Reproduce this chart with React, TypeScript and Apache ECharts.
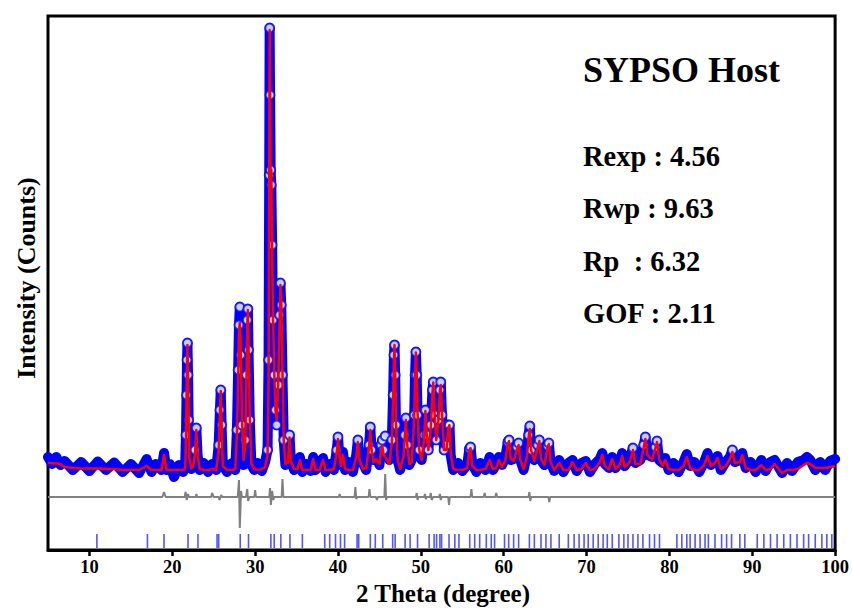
import React, { useEffect, useRef } from "react";
import * as echarts from "echarts";

// [2θ, observed counts, calculated counts]
const profile: [number, number, number][] = [
  [5.0, 560, 440], [5.5, 420, 440], [6.0, 560, 430], [6.5, 400, 420], [7.0, 480, 360],
  [8.0, 300, 340], [9.0, 460, 330], [10.0, 280, 330], [11.0, 470, 330], [12.0, 300, 320],
  [13.0, 450, 320], [14.0, 260, 300], [15.0, 420, 300], [16.0, 240, 300], [16.9, 520, 380],
  [17.5, 260, 300], [18.0, 420, 300], [18.7, 300, 300], [19.0, 640, 600], [19.3, 300, 300],
  [19.7, 420, 300], [20.2, 160, 300], [20.8, 400, 300], [21.3, 260, 300],
  [21.55, 380, 320], [21.65, 1000, 900], [21.72, 1800, 1700], [21.78, 2500, 2450], [21.83, 2840, 2800],
  [21.9, 2200, 2250], [21.97, 1300, 1350], [22.05, 600, 560], [22.3, 320, 330], [22.5, 420, 360],
  [22.75, 700, 650], [22.9, 1140, 1100], [23.05, 600, 600], [23.3, 300, 320], [23.8, 440, 300],
  [24.3, 260, 300], [24.8, 420, 320], [25.3, 300, 300], [25.6, 800, 700], [25.75, 1500, 1450],
  [25.85, 1900, 1880], [25.95, 1200, 1250], [26.1, 400, 380], [26.6, 260, 300], [27.2, 440, 300],
  [27.6, 300, 320], [27.8, 1100, 1000], [27.95, 2300, 2100], [28.05, 3200, 3100], [28.15, 3560, 3250],
  [28.25, 2600, 2900], [28.4, 1200, 1400], [28.6, 400, 500], [28.8, 900, 800], [28.95, 2200, 2100],
  [29.05, 3300, 3200], [29.12, 3520, 3500], [29.2, 2700, 2800], [29.35, 1300, 1400], [29.55, 400, 420],
  [29.9, 300, 320], [30.3, 440, 300], [30.8, 280, 320], [31.2, 460, 360], [31.5, 700, 600],
  [31.62, 2500, 2200], [31.7, 6200, 6000], [31.75, 9140, 9100], [31.8, 7800, 8000], [31.87, 6300, 6200],
  [31.95, 6000, 6300], [32.05, 4800, 4600], [32.15, 3300, 3400], [32.3, 2200, 2300], [32.45, 1500, 1500],
  [32.6, 1200, 1300], [32.8, 2000, 2100], [32.95, 3400, 3300], [33.05, 4040, 4000], [33.15, 3600, 3700],
  [33.3, 2200, 2300], [33.45, 900, 900], [33.65, 400, 420], [33.95, 500, 450], [34.15, 1000, 950],
  [34.3, 500, 480], [34.7, 300, 320], [35.1, 420, 320], [35.4, 560, 500], [35.7, 260, 300],
  [36.2, 420, 300], [36.7, 280, 300], [37.0, 560, 520], [37.3, 300, 300], [37.8, 420, 300],
  [38.2, 540, 500], [38.5, 260, 300], [39.0, 420, 300], [39.5, 300, 320], [39.85, 700, 650],
  [40.0, 960, 920], [40.15, 600, 620], [40.35, 400, 380], [40.6, 660, 600], [40.85, 300, 320],
  [41.3, 460, 300], [41.8, 260, 300], [42.2, 600, 560], [42.4, 900, 860], [42.6, 500, 500],
  [43.0, 440, 320], [43.4, 300, 340], [43.75, 800, 750], [43.9, 1160, 1100], [44.05, 700, 700],
  [44.3, 500, 450], [44.6, 600, 520], [45.0, 400, 420], [45.2, 800, 700], [45.35, 900, 780],
  [45.5, 700, 600], [45.7, 980, 560], [45.9, 600, 500], [46.2, 500, 420], [46.5, 900, 850],
  [46.65, 1800, 1750], [46.75, 2600, 2550], [46.82, 2800, 2800], [46.9, 2200, 2250], [47.0, 1200, 1250],
  [47.2, 500, 500], [47.5, 300, 320], [47.9, 600, 560], [48.05, 1000, 950], [48.2, 1340, 1300],
  [48.35, 800, 820], [48.6, 400, 420], [48.9, 500, 460], [49.2, 1400, 1350], [49.3, 2200, 2150],
  [49.4, 2660, 2650], [49.5, 2200, 2250], [49.6, 1400, 1450], [49.8, 700, 700], [50.1, 500, 500],
  [50.4, 1000, 950], [50.55, 1500, 1480], [50.7, 1000, 1000], [50.9, 700, 700], [51.2, 1200, 1150],
  [51.4, 1900, 1850], [51.5, 2060, 2050], [51.65, 1400, 1450], [51.85, 900, 900], [52.1, 1300, 1250],
  [52.3, 1900, 1900], [52.4, 2060, 2000], [52.55, 1400, 1450], [52.8, 700, 700], [53.1, 800, 700],
  [53.3, 1200, 1150], [53.45, 1200, 1200], [53.6, 600, 650], [53.9, 300, 320], [54.5, 440, 300],
  [55.0, 280, 300], [55.6, 400, 340], [55.85, 720, 700], [56.0, 760, 740], [56.2, 420, 380],
  [56.7, 260, 300], [57.2, 440, 300], [57.8, 300, 320], [58.3, 560, 500], [58.7, 300, 320],
  [59.1, 420, 340], [59.4, 560, 500], [59.8, 400, 360], [60.2, 560, 500], [60.5, 860, 820],
  [60.65, 900, 880], [60.85, 500, 520], [61.2, 520, 480], [61.6, 760, 720], [61.8, 840, 800],
  [62.0, 500, 500], [62.4, 300, 320], [62.8, 600, 560], [63.0, 1000, 950], [63.15, 1180, 1120],
  [63.3, 700, 700], [63.7, 500, 480], [64.1, 800, 760], [64.3, 900, 880], [64.5, 500, 520],
  [64.9, 400, 400], [65.3, 780, 760], [65.45, 840, 820], [65.65, 460, 460], [66.1, 280, 300],
  [66.7, 500, 440], [67.2, 260, 300], [67.8, 440, 300], [68.3, 500, 460], [68.8, 280, 300],
  [69.4, 440, 320], [69.9, 480, 440], [70.4, 260, 300], [71.0, 420, 320], [71.6, 520, 460],
  [71.9, 640, 600], [72.2, 420, 380], [72.7, 340, 320], [73.1, 560, 520], [73.5, 340, 320],
  [74.0, 460, 400], [74.3, 640, 580], [74.6, 380, 360], [75.2, 520, 460], [75.6, 740, 700],
  [75.9, 440, 420], [76.5, 500, 420], [76.9, 800, 760], [77.1, 960, 920], [77.35, 600, 600],
  [77.9, 560, 500], [78.3, 760, 740], [78.5, 880, 860], [78.75, 500, 520], [79.2, 440, 380],
  [79.5, 540, 500], [79.9, 300, 320], [80.5, 440, 300], [81.1, 260, 300], [81.7, 460, 380],
  [82.1, 620, 560], [82.5, 380, 340], [83.0, 460, 300], [83.6, 260, 300], [84.2, 460, 400],
  [84.6, 640, 580], [85.0, 400, 380], [85.5, 500, 440], [85.8, 580, 540], [86.2, 300, 320],
  [86.8, 460, 380], [87.3, 560, 520], [87.6, 700, 660], [87.9, 460, 440], [88.5, 500, 460],
  [88.8, 640, 600], [89.2, 340, 340], [89.8, 460, 300], [90.4, 260, 300], [91.1, 500, 400],
  [91.6, 280, 300], [92.2, 460, 320], [92.7, 500, 420], [93.6, 240, 240], [94.2, 440, 300],
  [94.8, 280, 300], [95.5, 460, 320], [96.2, 500, 400], [96.6, 560, 440], [97.0, 500, 420],
  [97.6, 300, 340], [98.2, 460, 340], [98.8, 300, 340], [99.4, 480, 360], [100.0, 520, 380],
];

// [2θ, observed − calculated]
const difference: [number, number][] = [
  [5, 0], [18.8, 0], [19.0, 100], [19.2, 0], [21.5, 0], [21.6, 100], [21.75, -60], [21.9, 60], [22.0, 0],
  [22.85, 0], [22.9, 60], [23.0, 0], [24.7, 0], [24.8, 80], [25.0, 0], [25.6, 0], [25.7, -60],
  [25.9, 40], [26.0, 0], [27.9, 0], [28.05, 340], [28.15, -620], [28.3, 120], [28.4, 0],
  [28.9, 0], [29.05, 160], [29.15, -80], [29.3, 0], [29.9, 0], [30.0, 140], [30.1, 0],
  [31.7, 0], [31.8, 180], [31.9, -160], [32.05, 120], [32.2, -60], [32.3, 0], [33.2, 0],
  [33.3, 360], [33.4, 0], [40.1, 0], [40.2, 60], [40.3, 0], [42.0, 0], [42.1, 200],
  [42.2, -40], [42.3, 0], [43.7, 0], [43.8, 160], [43.9, 0], [44.6, 0], [44.7, -60],
  [44.8, 0], [45.6, 0], [45.7, 460], [45.8, -60], [45.9, 0], [49.4, 0], [49.5, 80],
  [49.6, -60], [49.7, 0], [50.4, 0], [50.5, 60], [50.6, -40], [50.7, 0], [51.1, 0],
  [51.2, 80], [51.3, -60], [51.5, 0], [52.2, 0], [52.3, 60], [52.4, -60], [52.5, 0],
  [53.3, 0], [53.4, -160], [53.5, 0], [56.0, 0], [56.1, 160], [56.2, 0], [57.6, 0],
  [57.7, 80], [57.8, 0], [59.0, 0], [59.1, 80], [59.2, 0], [63.0, 0], [63.1, 100],
  [63.2, -80], [63.3, 0], [65.4, 0], [65.5, -100], [65.6, 0], [100, 0],
];

// Bragg reflection positions (2θ)
const braggPositions: number[] = [
  10.9, 17.0, 19.0, 21.9, 23.1, 25.4, 25.6, 28.2, 29.2, 31.9, 32.3, 33.1, 34.2, 35.7,
  38.4, 39.0, 39.7, 40.3, 40.8, 42.3, 42.5, 43.9, 44.5, 45.4, 46.6, 46.9, 48.1, 48.7,
  49.6, 51.0, 51.6, 51.9, 52.3, 52.5, 53.4, 54.1, 54.6, 55.9, 56.5, 57.1, 57.9, 58.5,
  58.9, 60.1, 60.6, 61.2, 61.8, 63.1, 63.7, 64.5, 65.1, 65.7, 66.7, 67.8, 68.5, 69.1,
  69.7, 70.2, 70.8, 71.4, 72.0, 72.5, 73.1, 73.9, 74.5, 75.0, 75.6, 76.2, 76.8, 77.6,
  78.2, 78.8, 80.9, 81.5, 82.1, 82.5, 83.1, 83.7, 84.3, 84.7, 85.5, 86.3, 86.9, 87.5,
  88.5, 89.1, 90.6, 91.4, 92.2, 93.0, 93.8, 94.6, 95.4, 96.2, 96.8, 97.6, 98.4, 99.0, 99.6,
];

const xTickValues: number[] = [10, 20, 30, 40, 50, 60, 70, 80, 90, 100];

const statLines: string[] = ["Rexp : 4.56", "Rwp : 9.63", "Rp  : 6.32", "GOF : 2.11"];
const chartTitle = "SYPSO Host";
const xName = "2 Theta (degree)";
const yName = "Intensity (Counts)";

const DIFF_OFFSET = -240;
const BRAGG_LEVEL = -1120;
const CIRCLE_MIN = 700;

const SERIF = "'Liberation Serif', 'Times New Roman', serif";

export default function App() {
  const ref = useRef<HTMLDivElement>(null);

  useEffect(() => {
    if (!ref.current) return;
    const chart = echarts.init(ref.current, undefined, { renderer: "svg" });

    const obsData = profile.map(([t, o]) => [t, o]);
    const calcData = profile.map(([t, , c]) => [t, c]);
    const circleData = profile.filter(([, o]) => o >= CIRCLE_MIN).map(([t, o]) => [t, o]);
    const diffData = difference.map(([t, d]) => [t, d + DIFF_OFFSET]);
    const braggData = braggPositions.map((t) => [t, BRAGG_LEVEL]);

    const statY = [156, 208, 261, 313];

    chart.setOption({
      animation: false,
      backgroundColor: "#fff",
      grid: {
        left: 48,
        top: 16,
        right: 12,
        bottom: 58,
        show: true,
        borderColor: "#000",
        borderWidth: 3,
        backgroundColor: "transparent",
      },
      xAxis: {
        type: "value",
        min: 5,
        max: 100,
        axisLine: { show: true, onZero: false, lineStyle: { color: "#000", width: 3 } },
        axisTick: {
          show: true,
          customValues: xTickValues,
          length: 6,
          inside: false,
          lineStyle: { color: "#000", width: 2.5 },
        },
        axisLabel: {
          customValues: xTickValues,
          color: "#000",
          fontFamily: SERIF,
          fontWeight: "bold",
          fontSize: 18.5,
          lineHeight: 18,
          margin: 8,
        },
        splitLine: { show: false },
      },
      yAxis: {
        type: "value",
        min: -1300,
        max: 9380,
        axisLine: { show: false },
        axisTick: { show: false },
        axisLabel: { show: false },
        splitLine: { show: false },
      },
      series: [
        {
          name: "Observed",
          type: "line",
          data: obsData,
          symbol: "none",
          showSymbol: false,
          z: 1,
          lineStyle: { color: "#0000ff", width: 10, join: "round", cap: "round" },
        },
        {
          name: "ObservedPoints",
          type: "scatter",
          data: circleData,
          symbol: "emptyCircle",
          symbolSize: 9,
          z: 2,
          itemStyle: { color: "#0000ff", borderColor: "#0000ff", borderWidth: 2 },
        },
        {
          name: "Difference",
          type: "line",
          data: diffData,
          symbol: "none",
          showSymbol: false,
          z: 3,
          lineStyle: { color: "#808080", width: 2 },
        },
        {
          name: "Bragg",
          type: "scatter",
          data: braggData,
          symbol: "rect",
          symbolSize: [1.6, 14],
          z: 3,
          itemStyle: { color: "#2b2bff" },
        },
        {
          name: "Calculated",
          type: "line",
          data: calcData,
          symbol: "none",
          showSymbol: false,
          z: 5,
          lineStyle: { color: "#ff0000", width: 2.5, join: "round" },
        },
      ],
      graphic: [
        {
          type: "text",
          x: 583,
          y: 70,
          style: {
            text: chartTitle,
            fontFamily: SERIF,
            fontWeight: "bold",
            fontSize: 36,
            fill: "#000",
            textAlign: "left",
            textVerticalAlign: "middle",
          },
        },
        ...statLines.map((s, i) => ({
          type: "text",
          x: 583,
          y: statY[i],
          style: {
            text: s,
            fontFamily: SERIF,
            fontWeight: "bold",
            fontSize: 28.5,
            fill: "#000",
            textAlign: "left",
            textVerticalAlign: "middle",
          },
        })),
        {
          type: "text",
          x: 443,
          y: 593,
          style: {
            text: xName,
            fontFamily: SERIF,
            fontWeight: "bold",
            fontSize: 25,
            lineHeight: 20,
            fill: "#000",
            textAlign: "center",
            textVerticalAlign: "middle",
          },
        },
        {
          type: "text",
          x: 26,
          y: 278,
          rotation: Math.PI / 2,
          style: {
            text: yName,
            fontFamily: SERIF,
            fontWeight: "bold",
            fontSize: 26,
            fill: "#000",
            textAlign: "center",
            textVerticalAlign: "middle",
          },
        },
      ],
    });

    return () => chart.dispose();
  }, []);

  return (
    <div
      ref={ref}
      style={{ position: "absolute", left: 0, top: 0, width: 852, height: 608 }}
    />
  );
}
